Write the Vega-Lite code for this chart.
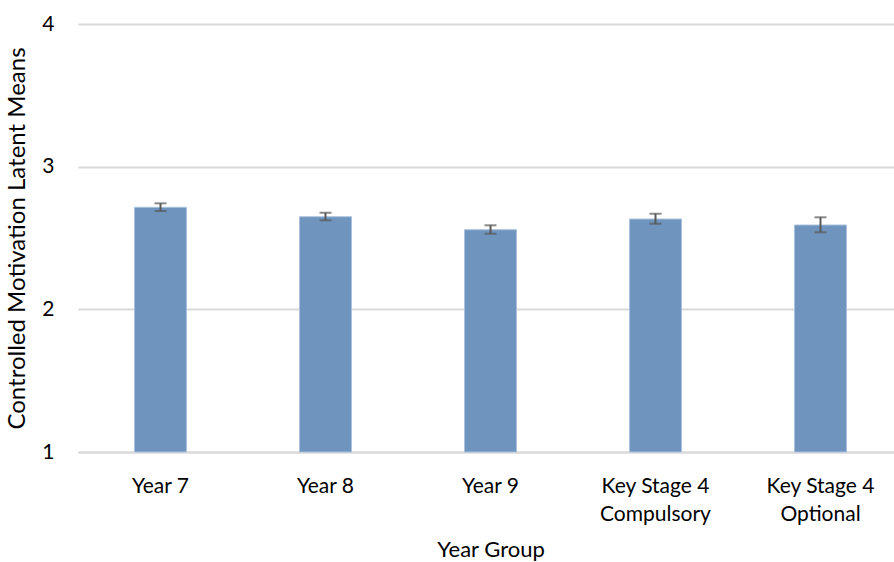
{
  "$schema": "https://vega.github.io/schema/vega-lite/v6.json",
  "autosize": "none",
  "padding": {"left": 78, "top": 24, "right": 0, "bottom": 110},
  "width": 825,
  "height": 428,
  "background": "white",
  "config": {
    "view": {"stroke": null},
    "font": "Lato",
    "axis": {"labelFont": "Lato", "titleFont": "Lato", "labelColor": "#000000", "titleColor": "#000000", "titleFontWeight": "normal"}
  },
  "data": {
    "values": [
      {"group": "Year 7", "mean": 2.715, "lo": 2.689, "hi": 2.743},
      {"group": "Year 8", "mean": 2.649, "lo": 2.624, "hi": 2.677},
      {"group": "Year 9", "mean": 2.558, "lo": 2.530, "hi": 2.589},
      {"group": "Key Stage 4\nCompulsory", "mean": 2.633, "lo": 2.600, "hi": 2.670},
      {"group": "Key Stage 4\nOptional", "mean": 2.591, "lo": 2.540, "hi": 2.645}
    ]
  },
  "encoding": {
    "x": {
      "field": "group",
      "type": "nominal",
      "sort": null,
      "scale": {"padding": 0},
      "axis": {
        "title": "Year Group",
        "titleFontSize": 22,
        "titlePadding": 15,
        "labelFontSize": 21,
        "labelAngle": 0,
        "labelPadding": 23,
        "labelLineHeight": 28,
        "labelExpr": "split(datum.value, '\\n')",
        "ticks": false,
        "domainColor": "#d9d9d9",
        "domainWidth": 2,
        "grid": false
      }
    }
  },
  "layer": [
    {
      "mark": {"type": "bar", "size": 52, "color": "#6f95bf", "stroke": "#a9c1dc", "strokeWidth": 1},
      "encoding": {
        "y": {
          "field": "mean",
          "type": "quantitative",
          "scale": {"domain": [1, 4], "zero": false},
          "axis": {
            "title": "Controlled Motivation Latent Means",
            "titleFontSize": 24,
            "titlePadding": 12,
            "labelFontSize": 21,
            "labelPadding": 24,
            "values": [1, 2, 3, 4],
            "format": "d",
            "ticks": false,
            "domain": false,
            "grid": true,
            "gridColor": "#d9d9d9",
            "gridWidth": 2
          }
        },
        "y2": {"datum": 1}
      }
    },
    {
      "mark": {"type": "rule", "color": "#595959", "strokeWidth": 2},
      "encoding": {
        "y": {"field": "lo", "type": "quantitative"},
        "y2": {"field": "hi"}
      }
    },
    {
      "mark": {"type": "tick", "color": "#595959", "thickness": 2, "size": 12},
      "encoding": {"y": {"field": "lo", "type": "quantitative"}}
    },
    {
      "mark": {"type": "tick", "color": "#595959", "thickness": 2, "size": 12},
      "encoding": {"y": {"field": "hi", "type": "quantitative"}}
    }
  ]
}
